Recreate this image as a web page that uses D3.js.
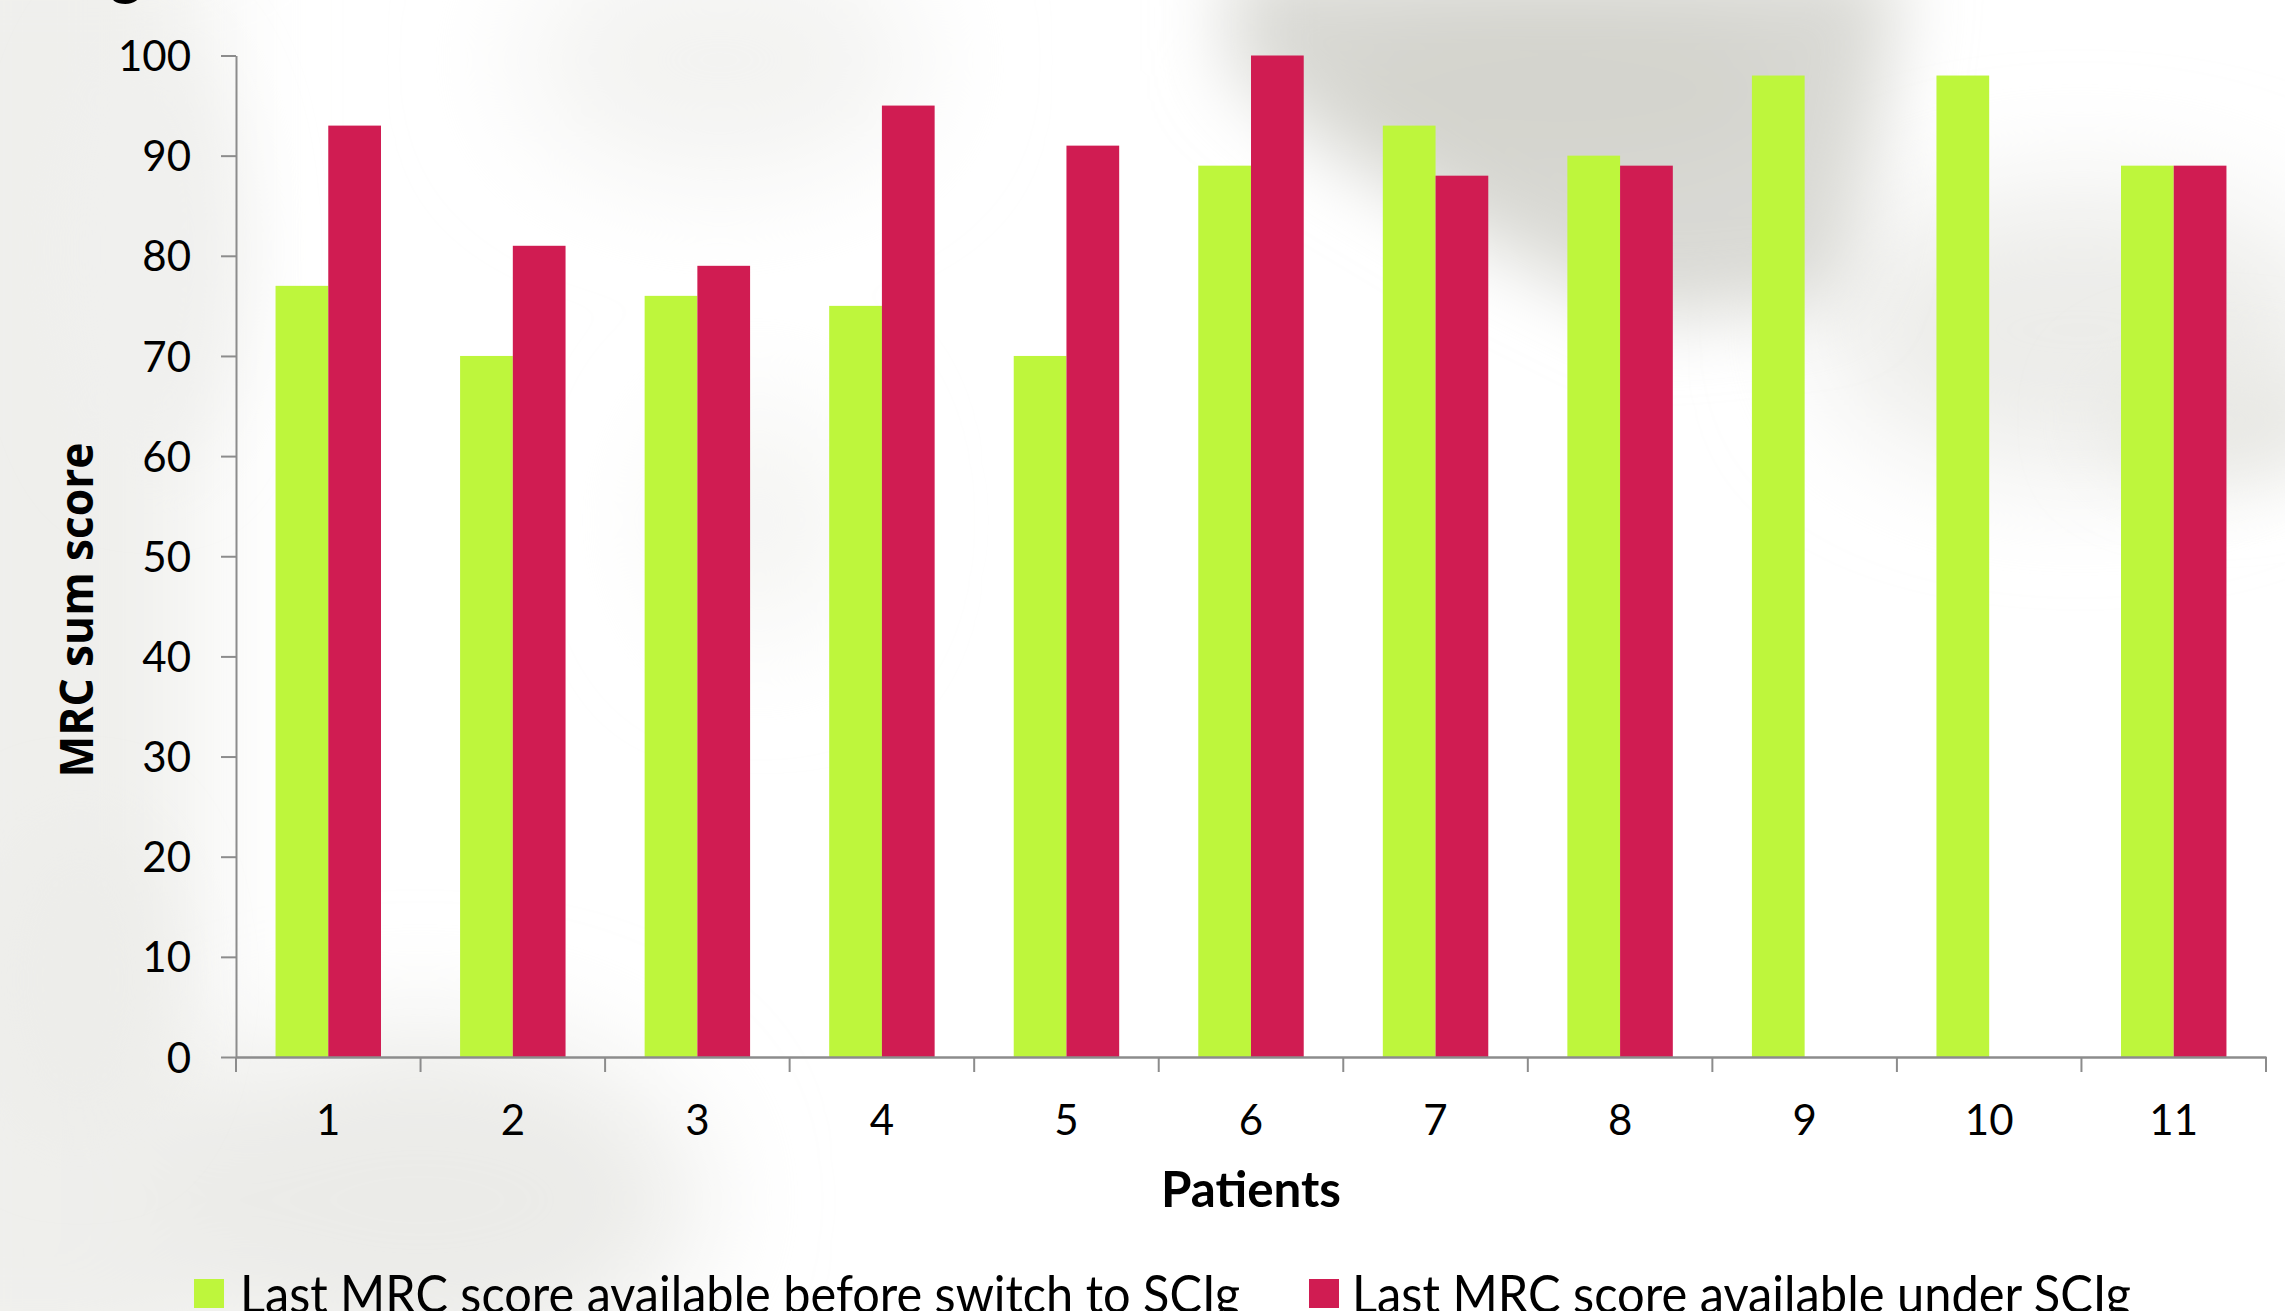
<!DOCTYPE html>
<html>
<head>
<meta charset="utf-8">
<script src="https://cdn.jsdelivr.net/npm/d3@7"></script>
<style>
  html, body { margin: 0; padding: 0; background: #ffffff; }
  svg { display: block; }
</style>
</head>
<body>
<script>
// MRC sum score per patient, before and after switching to SCIg
const patients = ["1", "2", "3", "4", "5", "6", "7", "8", "9", "10", "11"];
const beforeSCIg = [77, 70, 76, 75, 70, 89, 93, 90, 98, 98, 89];
const underSCIg = [93, 81, 79, 95, 91, 100, 88, 89, null, null, 89];
const yTicks = [0, 10, 20, 30, 40, 50, 60, 70, 80, 90, 100];
const seriesLabels = [
  "Last MRC score available before switch to SCIg",
  "Last MRC score available under SCIg"
];
const seriesColors = ["#bef63c", "#d01c52"];
const xTitle = "Patients";
const yTitle = "MRC sum score";

const W = 2285, H = 1311;
const plot = { left: 236, right: 2266, top: 55.5, bottom: 1057 };

const svg = d3.select("body").append("svg")
  .attr("width", W).attr("height", H)
  .attr("viewBox", `0 0 ${W} ${H}`);

// soft grey haze behind the chart
const defs = svg.append("defs");
defs.append("filter").attr("id", "haze")
  .attr("x", "-50%").attr("y", "-50%").attr("width", "200%").attr("height", "200%")
  .append("feGaussianBlur").attr("stdDeviation", 38);
defs.append("filter").attr("id", "hazeWide")
  .attr("x", "-50%").attr("y", "-50%").attr("width", "200%").attr("height", "200%")
  .append("feGaussianBlur").attr("stdDeviation", 60);

svg.append("rect").attr("width", W).attr("height", H).attr("fill", "#ffffff");

const haze = svg.append("g").attr("class", "haze");
const hazeWide = haze.append("g").attr("filter", "url(#hazeWide)");
hazeWide.append("rect").attr("x", -120).attr("y", -100).attr("width", 320).attr("height", 1500).attr("fill", "#efefec");
hazeWide.append("ellipse").attr("cx", 420).attr("cy", 1200).attr("rx", 280).attr("ry", 170).attr("fill", "#ebebe8");
hazeWide.append("ellipse").attr("cx", 2080).attr("cy", 330).attr("rx", 260).attr("ry", 140).attr("fill", "#ecece9");
hazeWide.append("ellipse").attr("cx", 720).attr("cy", 60).attr("rx", 200).attr("ry", 120).attr("fill", "#f3f3f1");
hazeWide.append("ellipse").attr("cx", 760).attr("cy", 520).attr("rx", 90).attr("ry", 120).attr("fill", "#f4f4f2");
const hazeTight = haze.append("g").attr("filter", "url(#haze)");
hazeTight.append("path")
  .attr("d", "M1230,-40 L1900,-40 L1880,120 L1840,300 L1640,320 L1480,240 L1330,150 L1230,70 Z")
  .attr("fill", "#d9d9d4");
hazeTight.append("ellipse").attr("cx", 1560).attr("cy", 90).attr("rx", 230).attr("ry", 90).attr("fill", "#d4d4ce");
hazeTight.append("ellipse").attr("cx", 2220).attr("cy", 420).attr("rx", 120).attr("ry", 60).attr("fill", "#e8e8e4");
hazeTight.append("ellipse").attr("cx", 80).attr("cy", 980).attr("rx", 90).attr("ry", 160).attr("fill", "#ededea");
hazeTight.append("ellipse").attr("cx", 150).attr("cy", 250).attr("rx", 90).attr("ry", 220).attr("fill", "#f0f0ee");

// scales
const x = d3.scaleBand().domain(patients).range([plot.left, plot.right]).paddingInner(0).paddingOuter(0);
const xs = d3.scaleBand().domain([0, 1]).range([0, x.bandwidth()]).paddingInner(0).paddingOuter(0.75);
const y = d3.scaleLinear().domain([0, 100]).range([plot.bottom, plot.top]);

// bars
[beforeSCIg, underSCIg].forEach((values, s) => {
  const rows = patients.map((p, i) => ({ p, v: values[i] })).filter(d => d.v != null);
  svg.append("g").attr("class", "series-" + s)
    .selectAll("rect").data(rows).join("rect")
    .attr("x", d => x(d.p) + xs(s))
    .attr("y", d => y(d.v))
    .attr("width", xs.bandwidth())
    .attr("height", d => y(0) - y(d.v))
    .attr("fill", seriesColors[s]);
});

const axisColor = "#8c8c8c";

// y axis
const yAxis = svg.append("g").attr("transform", `translate(${plot.left},0)`)
  .call(d3.axisLeft(y).tickValues(yTicks).tickSize(15).tickSizeOuter(0).tickPadding(30));
yAxis.select(".domain").attr("stroke", axisColor).attr("stroke-width", 2);
yAxis.selectAll(".tick line").attr("stroke", axisColor).attr("stroke-width", 2);
yAxis.selectAll(".tick text")
  .attr("dy", "0.36em")
  .attr("fill", "#000")
  .style("font-family", "Lato, 'Open Sans', sans-serif")
  .style("font-size", "42px");

// x axis: labels centred in each band, tick marks between categories
const xAxis = svg.append("g").attr("transform", `translate(0,${plot.bottom})`)
  .call(d3.axisBottom(x).tickSize(0).tickSizeOuter(0));
xAxis.select(".domain").attr("stroke", axisColor).attr("stroke-width", 2.5);
xAxis.selectAll(".tick text")
  .attr("y", 78).attr("dy", 0)
  .attr("fill", "#000")
  .style("font-family", "Lato, 'Open Sans', sans-serif")
  .style("font-size", "42px");
const boundaries = patients.map(p => x(p)).concat([x.range()[1]]);
xAxis.selectAll(".bound").data(boundaries).join("line")
  .attr("class", "bound")
  .attr("x1", d => d).attr("x2", d => d)
  .attr("y1", 0).attr("y2", 15)
  .attr("stroke", axisColor).attr("stroke-width", 2);

// axis titles
svg.append("text")
  .attr("x", (plot.left + plot.right) / 2).attr("y", 1207)
  .attr("text-anchor", "middle")
  .attr("textLength", 180).attr("lengthAdjust", "spacingAndGlyphs")
  .style("font-family", "Lato, sans-serif").style("font-weight", 700).style("font-size", "50px")
  .attr("fill", "#000")
  .text(xTitle);

svg.append("text")
  .attr("transform", "translate(93,610) rotate(-90)")
  .attr("text-anchor", "middle")
  .attr("textLength", 335).attr("lengthAdjust", "spacingAndGlyphs")
  .style("font-family", "'Open Sans', sans-serif").style("font-weight", 700).style("font-size", "47px")
  .attr("fill", "#000")
  .text(yTitle);

// heading glyph running off the top edge
svg.append("text")
  .attr("x", 110).attr("y", -7)
  .style("font-family", "Lato, sans-serif").style("font-weight", 700).style("font-size", "60px")
  .attr("fill", "#000")
  .text("g");

// legend
const legendItems = [
  { sx: 194, tx: 240, len: 1000 },
  { sx: 1309, tx: 1352, len: 779 }
];
const legend = svg.append("g").attr("class", "legend");
legendItems.forEach((it, i) => {
  legend.append("rect")
    .attr("x", it.sx).attr("y", 1279).attr("width", 30).attr("height", 29)
    .attr("fill", seriesColors[i]);
  legend.append("text")
    .attr("x", it.tx).attr("y", 1313)
    .attr("textLength", it.len).attr("lengthAdjust", "spacingAndGlyphs")
    .style("font-family", "Lato, sans-serif").style("font-size", "53px")
    .attr("fill", "#000")
    .text(seriesLabels[i]);
});
</script>
</body>
</html>
